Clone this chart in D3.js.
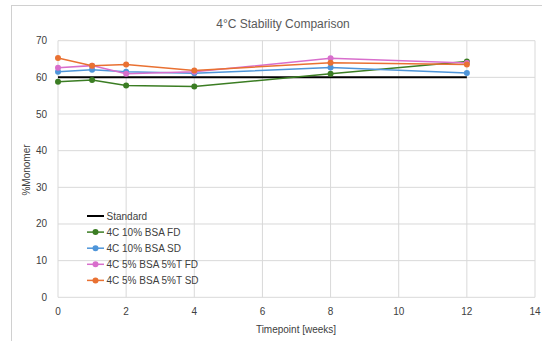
<!DOCTYPE html>
<html lang="en">
<head>
    <meta charset="UTF-8">
    <title>4°C Stability Comparison</title>
    <script src="https://d3js.org/d3.v7.min.js"></script>
    <style>
        body { margin: 0; background: #fff; }
        svg { font-family: "Liberation Sans", Arial, sans-serif; }
    </style>
</head>
<body>
    <svg width="542" height="341"></svg>

    <script>
        // data
        const timepoints = [0, 1, 2, 4, 8, 12];
        const standard = [60, 60, 60, 60, 60, 60];
        const bsa10FD = [58.8, 59.3, 57.8, 57.5, 61.0, 64.3];
        const bsa10SD = [61.5, 62.1, 61.5, 61.1, 62.7, 61.2];
        const bsa5FD = [62.6, 63.2, 61.0, 61.5, 65.2, 63.9];
        const bsa5SD = [65.3, 63.2, 63.5, 61.9, 64.0, 63.5];
        const seriesNames = ["Standard", "4C 10% BSA FD", "4C 10% BSA SD", "4C 5% BSA 5%T FD", "4C 5% BSA 5%T SD"];
        const seriesColors = ["#000000", "#3b7d23", "#4e95d9", "#d86ecc", "#e97132"];
        const xTicks = [0, 2, 4, 6, 8, 10, 12, 14];
        const yTicks = [0, 10, 20, 30, 40, 50, 60, 70];

        const series = [standard, bsa10FD, bsa10SD, bsa5FD, bsa5SD].map((vals, i) => ({
            name: seriesNames[i],
            color: seriesColors[i],
            markers: i > 0,
            points: timepoints.map((t, j) => ({ x: t, y: vals[j] }))
        }));

        const svg = d3.select('svg');
        const plotLeft = 58, plotRight = 535, plotTop = 40.7, plotBottom = 297.3;

        // outer chart frame (runs past the window on right and bottom)
        svg.append('rect')
            .attr('x', 11.5).attr('y', 5.5)
            .attr('width', 600).attr('height', 400)
            .attr('fill', 'none')
            .attr('stroke', '#d0d0d0');

        const x = d3.scaleLinear().domain([0, 14]).range([plotLeft, plotRight]);
        const y = d3.scaleLinear().domain([0, 70]).range([plotBottom, plotTop]);

        // gridlines
        svg.append('g').selectAll('line')
            .data(xTicks).enter().append('line')
            .attr('x1', d => x(d)).attr('x2', d => x(d))
            .attr('y1', plotTop).attr('y2', plotBottom)
            .attr('stroke', '#d9d9d9');
        svg.append('g').selectAll('line')
            .data(yTicks).enter().append('line')
            .attr('x1', plotLeft).attr('x2', plotRight)
            .attr('y1', d => y(d)).attr('y2', d => y(d))
            .attr('stroke', '#d9d9d9');

        // tick labels
        svg.append('g').selectAll('text')
            .data(xTicks).enter().append('text')
            .attr('x', d => x(d)).attr('y', 315)
            .attr('text-anchor', 'middle')
            .attr('font-size', 10).attr('fill', '#404040')
            .text(d => d);
        svg.append('g').selectAll('text')
            .data(yTicks).enter().append('text')
            .attr('x', 47).attr('y', d => y(d) + 3.5)
            .attr('text-anchor', 'end')
            .attr('font-size', 10).attr('fill', '#404040')
            .text(d => d);

        // titles
        svg.append('text')
            .attr('x', 283).attr('y', 28)
            .attr('text-anchor', 'middle')
            .attr('font-size', 12).attr('fill', '#595959')
            .text('4°C Stability Comparison');
        svg.append('text')
            .attr('x', 296).attr('y', 333)
            .attr('text-anchor', 'middle')
            .attr('font-size', 10).attr('fill', '#404040')
            .text('Timepoint [weeks]');
        svg.append('text')
            .attr('transform', 'translate(30,170) rotate(-90)')
            .attr('text-anchor', 'middle')
            .attr('font-size', 10).attr('fill', '#404040')
            .text('%Monomer');

        // lines + markers
        const line = d3.line().x(d => x(d.x)).y(d => y(d.y));
        series.forEach(s => {
            const g = svg.append('g');
            g.append('path')
                .datum(s.points)
                .attr('d', line)
                .attr('fill', 'none')
                .attr('stroke', s.color)
                .attr('stroke-width', s.markers ? 1.5 : 2);
            if (s.markers) {
                g.selectAll('circle')
                    .data(s.points).enter().append('circle')
                    .attr('cx', d => x(d.x)).attr('cy', d => y(d.y))
                    .attr('r', 3)
                    .attr('fill', s.color);
            }
        });

        // legend
        const legend = svg.append('g');
        series.forEach((s, i) => {
            const ly = 216 + i * 16.1;
            legend.append('line')
                .attr('x1', 87).attr('x2', 104)
                .attr('y1', ly).attr('y2', ly)
                .attr('stroke', s.color)
                .attr('stroke-width', s.markers ? 1.5 : 2);
            if (s.markers) {
                legend.append('circle')
                    .attr('cx', 95.5).attr('cy', ly).attr('r', 3)
                    .attr('fill', s.color);
            }
            legend.append('text')
                .attr('x', 106.5).attr('y', ly + 3.5)
                .attr('font-size', 10).attr('fill', '#404040')
                .text(s.name);
        });
    </script>
</body>
</html>
